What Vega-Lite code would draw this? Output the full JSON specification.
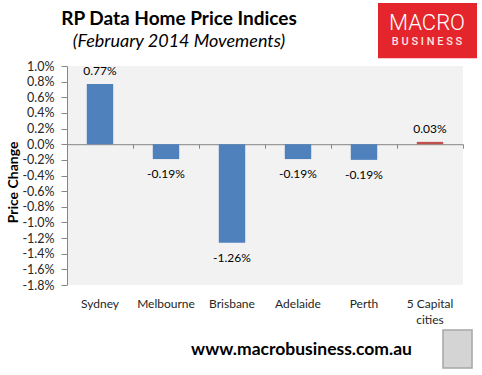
{
  "$schema": "https://vega.github.io/schema/vega-lite/v6.json",
  "autosize": {"type": "none"},
  "padding": {"left": 67, "top": 66, "right": 19, "bottom": 90},
  "width": 396,
  "height": 219,
  "background": "white",
  "config": {"view": {"fill": "#f2f2f2", "stroke": null}, "font": "Lato"},
  "title": {
    "text": "RP Data Home Price Indices",
    "subtitle": "(February 2014 Movements)",
    "anchor": "middle",
    "frame": "group",
    "dx": -86,
    "offset": -48,
    "font": "Lato",
    "fontSize": 19,
    "fontWeight": "bold",
    "color": "#000000",
    "subtitleFont": "Lato",
    "subtitleFontSize": 18,
    "subtitleFontStyle": "italic",
    "subtitleColor": "#000000",
    "subtitlePadding": 4
  },
  "data": {
    "values": [
      {"city": "Sydney", "change": 0.0077, "label": "0.77%", "group": "City"},
      {"city": "Melbourne", "change": -0.0019, "label": "-0.19%", "group": "City"},
      {"city": "Brisbane", "change": -0.0126, "label": "-1.26%", "group": "City"},
      {"city": "Adelaide", "change": -0.0019, "label": "-0.19%", "group": "City"},
      {"city": "Perth", "change": -0.002, "label": "-0.19%", "group": "City"},
      {"city": "5 Capital cities", "change": 0.0003, "label": "0.03%", "group": "Combined"}
    ]
  },
  "layer": [
    {
      "mark": {"type": "bar", "width": {"band": 0.4}},
      "encoding": {
        "x": {
          "field": "city", "type": "nominal", "sort": null,
          "scale": {"paddingInner": 0, "paddingOuter": 0},
          "axis": {
            "orient": "bottom", "domain": false, "ticks": false, "grid": false,
            "labelAngle": 0, "labelPadding": 13, "labelFontSize": 12, "labelFont": "Lato",
            "labelColor": "#262626", "labelBaseline": "top", "labelLineHeight": 16,
            "labelExpr": "datum.value == '5 Capital cities' ? ['5 Capital', 'cities'] : datum.value",
            "title": "www.macrobusiness.com.au",
            "titleFont": "Lato", "titleFontSize": 17.5, "titleFontWeight": "bold", "titleColor": "#000000",
            "titleX": 234, "titleY": 69, "titleAlign": "center", "titleBaseline": "alphabetic", "titleAnchor": null
          }
        },
        "y": {
          "field": "change", "type": "quantitative",
          "scale": {"domain": [-0.018, 0.01], "nice": false, "zero": true},
          "axis": {
            "values": [0.01, 0.008, 0.006, 0.004, 0.002, 0, -0.002, -0.004, -0.006, -0.008, -0.01, -0.012, -0.014, -0.016, -0.018],
            "labelExpr": "replace(format(datum.value, '.1%'), '\u2212', '-')",
            "grid": false, "domainColor": "#868686", "tickColor": "#868686", "tickSize": 6,
            "labelPadding": 7, "labelFontSize": 12.5, "labelFont": "Lato", "labelColor": "#262626",
            "title": "Price Change", "titleFont": "Lato", "titleFontSize": 14, "titleFontWeight": "bold",
            "titleColor": "#000000", "titleX": -54, "titleY": 116, "titleAngle": -90,
            "titleAlign": "center", "titleBaseline": "middle"
          }
        },
        "color": {
          "field": "group", "type": "nominal",
          "scale": {"domain": ["City", "Combined"], "range": ["#4f81bd", "#c0504d"]},
          "legend": null
        }
      }
    },
    {
      "transform": [{"filter": "datum.change >= 0"}],
      "mark": {"type": "text", "dy": -13, "fontSize": 12, "font": "Lato", "color": "#000000", "baseline": "middle"},
      "encoding": {
        "x": {"field": "city", "type": "nominal", "sort": null, "axis": null},
        "y": {"field": "change", "type": "quantitative", "axis": null},
        "text": {"field": "label"}
      }
    },
    {
      "transform": [{"filter": "datum.change < 0"}],
      "mark": {"type": "text", "dy": 15, "fontSize": 12, "font": "Lato", "color": "#000000", "baseline": "middle"},
      "encoding": {
        "x": {
          "field": "city", "type": "nominal", "sort": null,
          "axis": {
            "orient": "top", "offset": -78.2, "labels": false, "title": null, "grid": false,
            "domainColor": "#868686", "tickColor": "#868686", "tickSize": -4, "tickBand": "extent"
          }
        },
        "y": {"field": "change", "type": "quantitative", "axis": null},
        "text": {"field": "label"}
      }
    },
    {
      "data": {"values": [{"logo": "MACRO BUSINESS"}]},
      "mark": {"type": "bar", "color": "#e4262c", "width": {"band": 1.5}, "xOffset": -2.5},
      "encoding": {
        "x": {"datum": "5 Capital cities", "type": "nominal", "axis": null},
        "y": {"datum": 0.018055, "type": "quantitative", "axis": null},
        "y2": {"datum": 0.011},
        "description": {"field": "logo"}
      }
    },
    {
      "data": {"values": [{"word": "MACRO"}]},
      "mark": {"type": "text", "color": "#ffffff", "font": "Roboto", "fontWeight": 300, "fontSize": 22, "baseline": "middle", "dx": -3},
      "encoding": {
        "x": {"datum": "5 Capital cities", "type": "nominal", "axis": null},
        "y": {"datum": 0.01545, "type": "quantitative", "axis": null},
        "text": {"field": "word"}
      }
    },
    {
      "data": {"values": [{"word": "B U S I N E S S"}]},
      "mark": {"type": "text", "color": "#fbe3e3", "font": "Roboto", "fontSize": 11, "fontWeight": 500, "baseline": "middle", "dx": -3},
      "encoding": {
        "x": {"datum": "5 Capital cities", "type": "nominal", "axis": null},
        "y": {"datum": 0.0131, "type": "quantitative", "axis": null},
        "text": {"field": "word"}
      }
    },
    {
      "data": {"values": [{"icon": "wolf"}]},
      "mark": {"type": "bar", "color": "#d4d4d4", "stroke": "#a6a6a6", "strokeWidth": 1.5, "width": {"band": 0.44}, "xOffset": 27.5},
      "encoding": {
        "x": {"datum": "5 Capital cities", "type": "nominal", "axis": null},
        "y": {"datum": -0.023753, "type": "quantitative", "axis": null},
        "y2": {"datum": -0.028612}
      }
    }
  ],
  "resolve": {"axis": {"x": "independent", "y": "independent"}}
}
